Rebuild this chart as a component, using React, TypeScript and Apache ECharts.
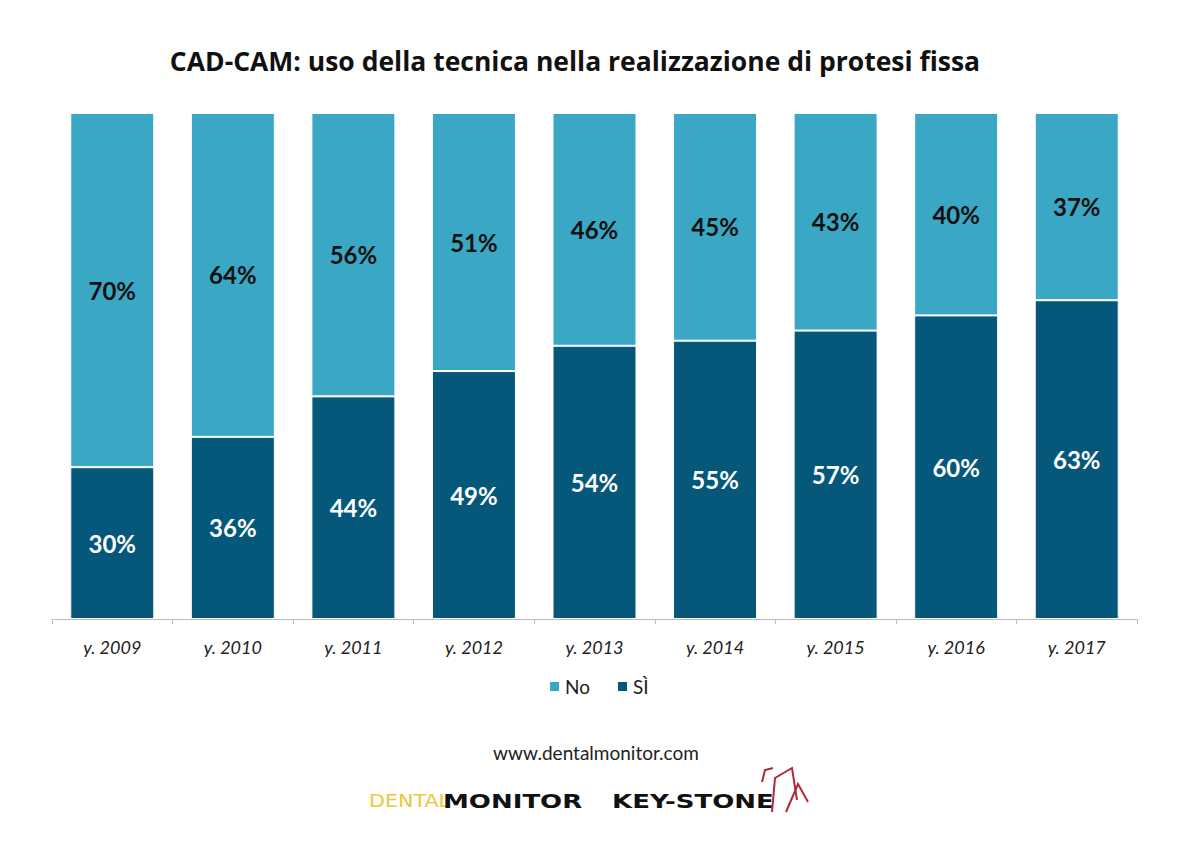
import React, { useEffect, useRef } from "react";
import * as echarts from "echarts";

const categories = ["y. 2009", "y. 2010", "y. 2011", "y. 2012", "y. 2013", "y. 2014", "y. 2015", "y. 2016", "y. 2017"];
const siValues = [30, 36, 44, 49, 54, 55, 57, 60, 63];
const noValues = [70, 64, 56, 51, 46, 45, 43, 40, 37];
const seriesNames = ["No", "SÌ"];
const titleText = "CAD-CAM: uso della tecnica nella realizzazione di protesi fissa";
const footerUrl = "www.dentalmonitor.com";

const FONT = "Lato, 'Open Sans', sans-serif";
const TITLE_FONT = "'Open Sans', Lato, sans-serif";
const LIGHT = "#3aa7c4";
const DARK = "#06587a";

export default function App() {
  const ref = useRef<HTMLDivElement>(null);
  useEffect(() => {
    if (!ref.current) return;
    const chart = echarts.init(ref.current, null, { renderer: "svg" });
    chart.setOption({
      animation: false,
      backgroundColor: "#ffffff",
      title: {
        text: titleText,
        left: 570,
        textAlign: "center",
        top: 42,
        textStyle: { fontFamily: TITLE_FONT, fontSize: 26.5, fontWeight: "bold", color: "#111" },
      },
      legend: {
        data: [seriesNames[0], seriesNames[1]],
        left: 543,
        top: 672,
        itemWidth: 11,
        itemHeight: 11,
        itemGap: 26,
        icon: "rect",
        textStyle: { fontFamily: FONT, fontSize: 19, color: "#222" },
      },
      grid: { left: 52, right: 63, top: 113, bottom: 230 },
      xAxis: {
        type: "category",
        data: categories,
        axisLine: { lineStyle: { color: "#bdbdbd", width: 1 } },
        axisTick: { show: true, alignWithLabel: false, length: 5, lineStyle: { color: "#bdbdbd" } },
        axisLabel: {
          fontFamily: FONT,
          fontStyle: "italic",
          fontSize: 18,
          color: "#222",
          margin: 19,
        },
      },
      yAxis: { type: "value", min: 0, max: 100, show: false, splitLine: { show: false } },
      series: [
        {
          name: seriesNames[1],
          type: "bar",
          stack: "t",
          data: siValues,
          barWidth: 84,
          itemStyle: { color: DARK, borderColor: "#ffffff", borderWidth: 1 },
          label: {
            show: true,
            position: "inside",
            formatter: "{c}%",
            fontFamily: FONT,
            fontWeight: "bold",
            fontSize: 24,
            color: "#ffffff",
          },
        },
        {
          name: seriesNames[0],
          type: "bar",
          stack: "t",
          data: noValues,
          barWidth: 84,
          itemStyle: { color: LIGHT, borderColor: "#ffffff", borderWidth: 1 },
          label: {
            show: true,
            position: "inside",
            formatter: "{c}%",
            fontFamily: FONT,
            fontWeight: "bold",
            fontSize: 24,
            color: "#111",
          },
        },
      ],
      graphic: [
        {
          type: "text",
          x: 596,
          y: 752,
          style: {
            text: footerUrl,
            textAlign: "center",
            textVerticalAlign: "middle",
            fontFamily: FONT,
            fontSize: 19,
            fill: "#222",
          },
        },
        {
          type: "text",
          x: 369,
          y: 801,
          scaleX: 1.15,
          style: { text: "DENTAL", textVerticalAlign: "middle", fontFamily: "'DejaVu Sans', sans-serif", fontSize: 18, fontWeight: "normal", fill: "#e9c93a" },
        },
        {
          type: "text",
          x: 443,
          y: 801,
          scaleX: 1.3,
          style: { text: "MONITOR", textVerticalAlign: "middle", fontFamily: "'DejaVu Sans', sans-serif", fontSize: 20, fontWeight: "bold", fill: "#111" },
        },
        {
          type: "text",
          x: 612,
          y: 801,
          scaleX: 1.3,
          style: { text: "KEY-STONE", textVerticalAlign: "middle", fontFamily: "'DejaVu Sans', sans-serif", fontSize: 20, fontWeight: "bold", fill: "#111" },
        },
        {
          type: "polyline",
          shape: { points: [[772, 812], [775, 778], [792, 768], [797, 800]] },
          style: { stroke: "#b0283a", lineWidth: 2, fill: "none" },
        },
        {
          type: "polyline",
          shape: { points: [[786, 812], [798, 784], [808, 802]] },
          style: { stroke: "#b0283a", lineWidth: 2, fill: "none" },
        },
        {
          type: "polyline",
          shape: { points: [[762, 782], [765, 770], [773, 768]] },
          style: { stroke: "#b0283a", lineWidth: 2, fill: "none" },
        },
      ],
    });
    return () => chart.dispose();
  }, []);
  return (
    <div
      ref={ref}
      style={{ position: "fixed", left: 0, top: 0, width: 1200, height: 849, background: "#fff" }}
    />
  );
}
